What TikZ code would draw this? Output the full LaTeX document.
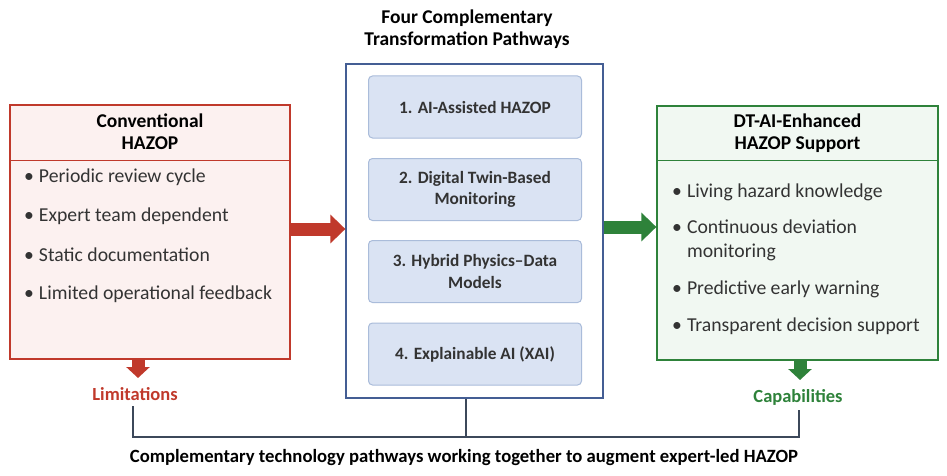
\documentclass[tikz,border=0pt]{standalone}
\usepackage{fontspec}
\setmainfont{Carlito}
\usetikzlibrary{arrows.meta}
\definecolor{redc}{RGB}{192,57,43}
\definecolor{redfill}{RGB}{252,241,240}
\definecolor{greenc}{RGB}{46,130,58}
\definecolor{greenfill}{RGB}{241,248,242}
\definecolor{bluec}{RGB}{68,94,148}
\definecolor{innerfill}{RGB}{218,227,243}
\definecolor{innerdraw}{RGB}{170,188,218}
\definecolor{textgray}{RGB}{51,51,51}
\definecolor{linec}{RGB}{60,72,90}
\tikzset{
  panel/.style={draw, line width=1.3pt, inner sep=0pt},
  inner/.style={draw=innerdraw, fill=innerfill, line width=1pt, rounded corners=4pt,
    minimum width=213pt, minimum height=62pt, inner sep=0pt,
    font=\bfseries\fontsize{17.3}{21.5}\selectfont, text=textgray, align=center},
  ttl/.style={font=\bfseries\fontsize{19.5}{22}\selectfont, align=center, text=black},
  item/.style={anchor=west, font=\fontsize{19.7}{24}\selectfont, text=textgray, align=left, inner sep=0pt},
  bigarrow/.style={line width=13pt, -{Triangle[length=15pt,width=28pt]}},
  smallarrow/.style={line width=13pt, -{Triangle[length=11pt,width=23pt]}},
  bracket/.style={draw=linec, line width=1.6pt},
  lab/.style={font=\bfseries\fontsize{18.5}{20}\selectfont},
}
\begin{document}
\begin{tikzpicture}[x=1pt,y=-1pt]
\useasboundingbox (0,0) rectangle (947,476);
% left panel
\node[panel, draw=redc, fill=redfill, minimum width=280pt, minimum height=254pt] (lb) at (150,232) {};
\draw[draw=redc, line width=1pt] (lb.west |- 0,160) coordinate (ld1) -- (lb.east |- 0,160) coordinate (ld2);
\node[ttl] (lt) at (150,132) {Conventional\\HAZOP};
\node[item] (l1) at (24,177) {•\hspace{5pt}Periodic review cycle};
\node[item] (l2) at (24,216) {•\hspace{5pt}Expert team dependent};
\node[item] (l3) at (24,255) {•\hspace{5pt}Static documentation};
\node[item] (l4) at (24,294) {•\hspace{5pt}Limited operational feedback};
% middle panel
\node[ttl] (mt) at (467,29) {Four Complementary\\Transformation Pathways};
\node[panel, draw=bluec, fill=white, minimum width=257pt, minimum height=334pt] (mb) at (474.5,231) {};
\node[inner] (p1) at (475,107) {1. AI-Assisted HAZOP};
\node[inner] (p2) at (475,189.5) {2. Digital Twin-Based\\Monitoring};
\node[inner] (p3) at (475,271.5) {3. Hybrid Physics–Data\\Models};
\node[inner] (p4) at (475,354) {4. Explainable AI (XAI)};
% right panel
\node[panel, draw=greenc, fill=greenfill, minimum width=281pt, minimum height=254pt] (rb) at (797.5,233) {};
\draw[draw=greenc, line width=1pt] (rb.west |- 0,160) coordinate (rd1) -- (rb.east |- 0,160) coordinate (rd2);
\node[ttl] (rt) at (797.5,133) {DT-AI-Enhanced\\HAZOP Support};
\node[item] (r1) at (672,192) {•\hspace{5pt}Living hazard knowledge};
\node[item] (r2) at (672,240.5) {•\hspace{5pt}Continuous deviation\\\phantom{•}\hspace{5pt}monitoring};
\node[item] (r3) at (672,289) {•\hspace{5pt}Predictive early warning};
\node[item] (r4) at (672,326) {•\hspace{5pt}Transparent decision support};
% arrows between panels
\draw[bigarrow, redc] (lb.east |- 0,229) -- (mb.west |- 0,229);
\draw[bigarrow, greenc] (mb.east |- 0,227) -- (rb.west |- 0,227);
% labels below
\coordinate (la) at (138,378);
\coordinate (ra) at (800,380);
\draw[smallarrow, redc] (lb.south -| la) -- (la);
\draw[smallarrow, greenc] (rb.south -| ra) -- (ra);
\node[lab, text=redc] (lim) at (135,394) {Limitations};
\node[lab, text=greenc] (cap) at (798,397) {Capabilities};
% bracket
\coordinate (bl) at (133,437);
\coordinate (br) at (799,437);
\coordinate (bm) at (466,437);
\draw[bracket] (lim.south -| bl) ++(0,2) -- (bl) -- (br) -- ++(0,-27) coordinate (brt);
\draw[bracket] (mb.south -| bm) -- (bm);
\node[font=\bfseries\fontsize{18.7}{20}\selectfont, text=black] (cap2) at (464,458) {Complementary technology pathways working together to augment expert-led HAZOP};
\end{tikzpicture}
\end{document}
